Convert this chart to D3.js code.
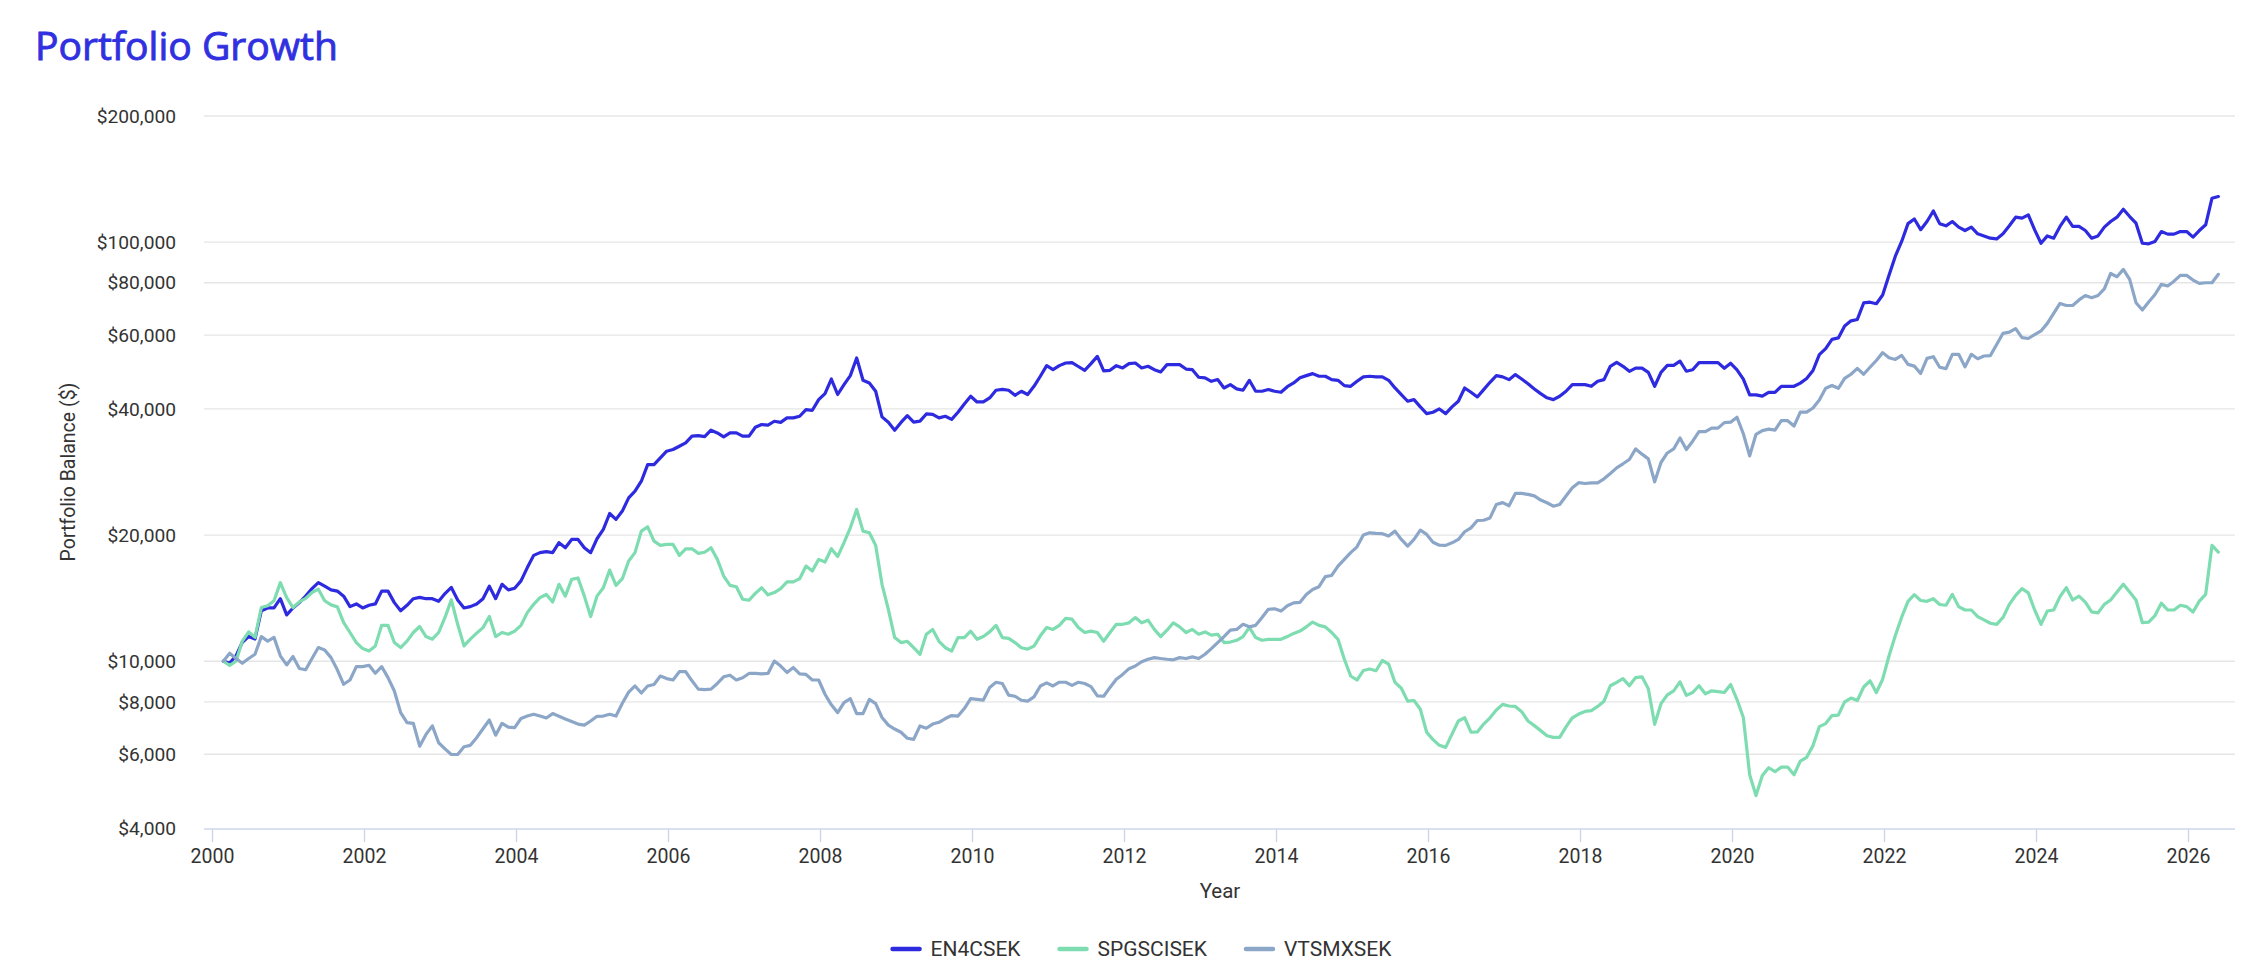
<!DOCTYPE html>
<html><head><meta charset="utf-8">
<script src="https://cdn.jsdelivr.net/npm/d3@7"></script>
<style>
html,body{margin:0;padding:0;background:#fff;}
svg{display:block;}
</style></head>
<body>
<svg id="chart" width="2262" height="974"></svg>
<script>
// ---------- DATA ----------
const chartTitle = "Portfolio Growth";
const seriesNames = ["EN4CSEK", "SPGSCISEK", "VTSMXSEK"];
const startYear = 2000;
const startMonthOffset = 1.79; // first monthly observation, in months after Jan 1 of startYear

const en4csek = [
10000,9900,10300,11100,11450,11300,13200,13400,13400,14100,12900,13400,13800,14300,14900,15400,15100,14800,14700,14300,13500,13700,13400,13600,13700,14700,14700,13800,13200,13600,14100,14200,14100,14100,13900,14500,15000,14000,13400,13500,13700,14100,15100,14100,
15260,14800,14930,15550,16730,17890,18160,18260,18160,19180,18660,19530,19530,18660,18160,19600,20630,22520,21800,22820,24540,25460,26890,29460,29460,30570,31710,32000,32590,33190,34440,34530,34350,35580,35060,34300,35060,35060,34440,34440,36170,36710,36600,37380,37140,38080,
38080,38420,39860,39700,42100,43500,47140,43300,45710,48030,52920,46810,46140,44080,38290,37170,35580,37140,38560,37200,37400,38910,38830,38080,38420,37770,39280,41110,42880,41560,41560,42490,44320,44540,44320,43110,44080,43300,45290,47860,50740,49620,50740,51480,51600,50500,
49450,51300,53400,49280,49450,50740,50100,51300,51480,50100,50560,49620,49000,51020,51020,51020,49800,49620,47600,47450,46560,47000,44880,45710,44650,44320,46810,44080,44080,44500,44080,43830,45200,46140,47450,48030,48560,47860,47860,47000,46800,45460,45290,46560,47700,
47860,47700,47700,46810,44880,43260,41720,42100,40450,38980,39280,40000,38980,40450,41720,44880,43830,42720,44480,46300,48030,47700,46980,48300,47140,45950,44640,43500,42520,42100,42880,44080,45710,45710,45710,45290,46560,46980,50560,51660,50560,49180,50060,50060,
48900,45300,48900,50800,50800,52000,49200,49600,51600,51600,51600,51600,50000,51400,49600,47100,43200,43200,42900,43800,43800,45300,45300,45300,46100,47300,49400,53900,55700,58600,59100,63100,64900,65400,71600,71900,71300,74800,83400,92600,100400,110700,113600,107100,112000,118700,110700,
109400,112000,108600,106600,108600,104700,103500,102200,101800,104700,109400,114700,114100,116200,107000,99400,103500,102200,109000,114700,109000,109000,106600,102200,103500,108600,112000,114700,119800,115100,111000,99400,99100,100400,106000,104500,104500,106000,106000,102800,106600,110000,127300,128500
];

const spgscisek = [
10000,9780,10000,11170,11750,11400,13430,13560,13940,15400,14190,13430,13860,14130,14590,14860,13940,13630,13480,12360,11710,11080,10720,10580,10880,12180,12180,11080,10780,11170,11710,12100,11450,11290,11710,12720,14010,12250,10880,11290,11670,12030,12790,11450,
11710,11600,11800,12180,13060,13670,14180,14430,13840,15260,14300,15680,15800,14300,12780,14300,14970,16500,15170,15740,17350,18160,20440,20930,19350,18900,19000,19000,17890,18550,18550,18090,18200,18660,17500,15970,15170,15060,14060,13980,14520,14970,14400,14580,14910,15460,
15460,15740,16870,16420,17500,17250,18550,17770,19180,20820,23020,20440,20260,18900,15260,13300,11390,11080,11160,10770,10390,11600,11910,11160,10770,10580,11390,11390,11800,11280,11450,11750,12180,11390,11340,11080,10770,10690,10870,11500,12040,11910,12180,12650,12600,12040,
11710,11800,11710,11160,11710,12250,12250,12350,12710,12350,12530,11910,11450,11860,12350,12080,11710,11910,11600,11750,11540,11600,11080,11110,11220,11450,12040,11390,11220,11280,11280,11280,11450,11650,11800,12080,12400,12180,12080,11710,11280,10110,9220,9020,9500,
9580,9490,10040,9840,8900,8620,8030,8060,7680,6770,6500,6300,6230,6700,7200,7330,6770,6780,7080,7330,7650,7890,7820,7800,7580,7200,7020,6830,6640,6580,6580,6970,7330,7480,7590,7620,7800,8030,8740,8900,9090,8740,9140,9180,
8600,7070,7920,8310,8500,8930,8290,8420,8740,8360,8500,8460,8420,8800,8100,7340,5360,4780,5340,5570,5450,5590,5590,5360,5780,5900,6290,6980,7100,7420,7440,8000,8170,8060,8680,8980,8420,9060,10290,11520,12740,13900,14420,13960,13900,14100,13660,
13600,14440,13500,13250,13250,12780,12550,12320,12250,12720,13670,14360,14900,14560,13250,12250,13180,13250,14260,14980,14000,14300,13840,13110,13040,13670,14000,14620,15260,14620,14000,12360,12400,12850,13760,13250,13250,13600,13500,13110,13910,14440,18900,18220
];

const vtsmxsek = [
10000,10450,10150,9890,10150,10390,11450,11170,11400,10300,9800,10260,9610,9540,10150,10780,10640,10200,9540,8810,9020,9710,9710,9780,9360,9710,9140,8490,7540,7140,7110,6270,6690,7010,6390,6180,5990,5990,6250,6300,6570,6900,7240,6660,
7110,6960,6940,7300,7400,7470,7400,7320,7500,7390,7280,7180,7080,7040,7200,7390,7400,7470,7400,7940,8440,8730,8400,8730,8800,9220,9090,9020,9440,9440,8980,8580,8560,8580,8850,9180,9260,9020,9130,9350,9350,9330,9350,10010,9740,9400,
9660,9330,9300,9020,9020,8340,7870,7540,7970,8140,7500,7500,8110,7920,7340,7040,6890,6770,6550,6510,7010,6920,7080,7150,7300,7420,7400,7710,8140,8110,8080,8660,8910,8850,8300,8250,8070,8030,8220,8730,8880,8730,8910,8910,8760,8910,
8850,8700,8270,8250,8660,9060,9300,9600,9740,9970,10110,10200,10150,10110,10080,10200,10150,10240,10150,10390,10720,11080,11450,11860,11910,12250,12080,12180,12710,13300,13340,13170,13560,13780,13820,14430,14830,15060,15920,16020,16870,17500,18160,18750,20000,
20250,20180,20150,19890,20440,19530,18820,19530,20550,20070,19230,18920,18900,19170,19530,20370,20810,21670,21700,21980,23660,23900,23500,25140,25140,25010,24800,24240,23890,23440,23660,24800,25940,26670,26550,26650,26650,27250,28050,28940,29590,30300,32110,31200,
30400,26800,29800,31400,32100,34100,32000,33500,35300,35300,36000,36000,37100,37200,38200,34900,30900,34800,35500,35800,35600,37500,37500,36400,39300,39300,40200,42000,44800,45500,44800,47300,48400,50000,48400,50300,52200,54500,53000,52500,53700,51100,50600,48600,52800,53300,50300,
49900,54000,54000,50400,54000,52700,53500,53600,57000,60600,61000,62200,59200,58900,60200,61400,64000,67600,71400,70600,70600,72800,74600,73700,74600,77400,84200,82700,86100,81500,71700,68900,72000,75000,79300,78600,80700,83300,83300,81200,79700,80000,80000,83800
];

const yTickValues = [4000, 6000, 8000, 10000, 20000, 40000, 60000, 80000, 100000, 200000];
const xTickValues = [2000, 2002, 2004, 2006, 2008, 2010, 2012, 2014, 2016, 2018, 2020, 2022, 2024, 2026];
const yAxisTitle = "Portfolio Balance ($)";
const xAxisTitle = "Year";

// ---------- STYLE / LAYOUT ----------
const colors = ["#2d2ae0", "#7ddcb0", "#8ca6c8"];
const plot = { left: 204, right: 2235, top: 116, bottom: 828 };
const tickFont = "Roboto, 'Open Sans', sans-serif";
const textColor = "#333333";

const svg = d3.select("#chart");

const series = [en4csek, spgscisek, vtsmxsek].map((vals, k) => ({
  name: seriesNames[k],
  color: colors[k],
  values: vals.map((v, i) => ({ t: startYear + (startMonthOffset + i) / 12, v }))
}));

const x = d3.scaleLinear().domain([2000, 2026]).range([212, 2188]);
const y = d3.scaleLog().domain([4000, 200000]).range([plot.bottom, plot.top]);

// gridlines
svg.append("g").selectAll("line").data(yTickValues.filter(d => d !== 4000)).join("line")
  .attr("x1", plot.left).attr("x2", plot.right)
  .attr("y1", d => y(d)).attr("y2", d => y(d))
  .attr("stroke", "#e6e6e6").attr("stroke-width", 1.4);

// y axis labels
const yAxis = d3.axisLeft(y).tickValues(yTickValues)
  .tickFormat(d => "$" + d3.format(",")(d)).tickSize(0).tickPadding(28);
const gy = svg.append("g").attr("transform", `translate(${plot.left},0)`).call(yAxis);
gy.select(".domain").remove();
gy.selectAll("text").attr("font-family", tickFont).attr("font-size", 19.2).attr("fill", textColor);

// x axis
const xAxis = d3.axisBottom(x).tickValues(xTickValues).tickFormat(d3.format("d"))
  .tickSize(13).tickPadding(7);
const gx = svg.append("g").attr("transform", `translate(0,${plot.bottom + 1})`).call(xAxis);
gx.select(".domain").remove();
gx.selectAll(".tick line").attr("stroke", "#ccd6eb").attr("stroke-width", 1.4);
gx.selectAll("text").attr("font-family", tickFont).attr("font-size", 19.5).attr("fill", textColor);
svg.append("line").attr("x1", plot.left).attr("x2", plot.right)
  .attr("y1", plot.bottom + 1).attr("y2", plot.bottom + 1)
  .attr("stroke", "#ccd6eb").attr("stroke-width", 1.5);

// series lines
const line = d3.line().x(d => x(d.t)).y(d => y(d.v)).curve(d3.curveLinear);
svg.append("g").selectAll("path").data(series).join("path")
  .attr("d", d => line(d.values))
  .attr("fill", "none").attr("stroke", d => d.color)
  .attr("stroke-width", 3.2).attr("stroke-linejoin", "round").attr("stroke-linecap", "round");

// axis titles
svg.append("text").attr("transform", `translate(68,${(plot.top + plot.bottom) / 2}) rotate(-90)`)
  .attr("text-anchor", "middle").attr("dominant-baseline", "central")
  .attr("font-family", tickFont).attr("font-size", 19.5).attr("fill", textColor).text(yAxisTitle);
svg.append("text").attr("x", 1220).attr("y", 891)
  .attr("text-anchor", "middle").attr("dominant-baseline", "central")
  .attr("font-family", tickFont).attr("font-size", 20.5).attr("fill", textColor).text(xAxisTitle);

// title
const title = svg.append("text").attr("x", 35).attr("y", 60)
  .attr("font-family", "'Open Sans', 'DejaVu Sans', sans-serif").attr("font-size", 37)
  .attr("fill", "#3030e0").attr("stroke", "#3030e0").attr("stroke-width", 0.9)
  .text(chartTitle);
const tw = title.node().getComputedTextLength();
title.attr("font-size", 37 * 303 / tw);

// legend
const legend = svg.append("g");
const items = legend.selectAll("g").data(series).join("g");
items.append("line").attr("x1", 0).attr("x2", 27).attr("y1", 0).attr("y2", 0)
  .attr("stroke", d => d.color).attr("stroke-width", 4.5).attr("stroke-linecap", "round");
items.append("text").attr("x", 38).attr("y", 0).attr("dominant-baseline", "central")
  .attr("font-family", tickFont).attr("font-size", 21).attr("fill", textColor).text(d => d.name);
const widths = [];
items.each(function () {
  const w = 38 + d3.select(this).select("text").node().getComputedTextLength();
  widths.push(w);
});
const gap = 39;
const total = d3.sum(widths) + gap * (widths.length - 1);
let start = 1142 - total / 2;
items.attr("transform", (d, i) => {
  const tx = start;
  start += widths[i] + gap;
  return `translate(${tx},949)`;
});
</script>
</body></html>
